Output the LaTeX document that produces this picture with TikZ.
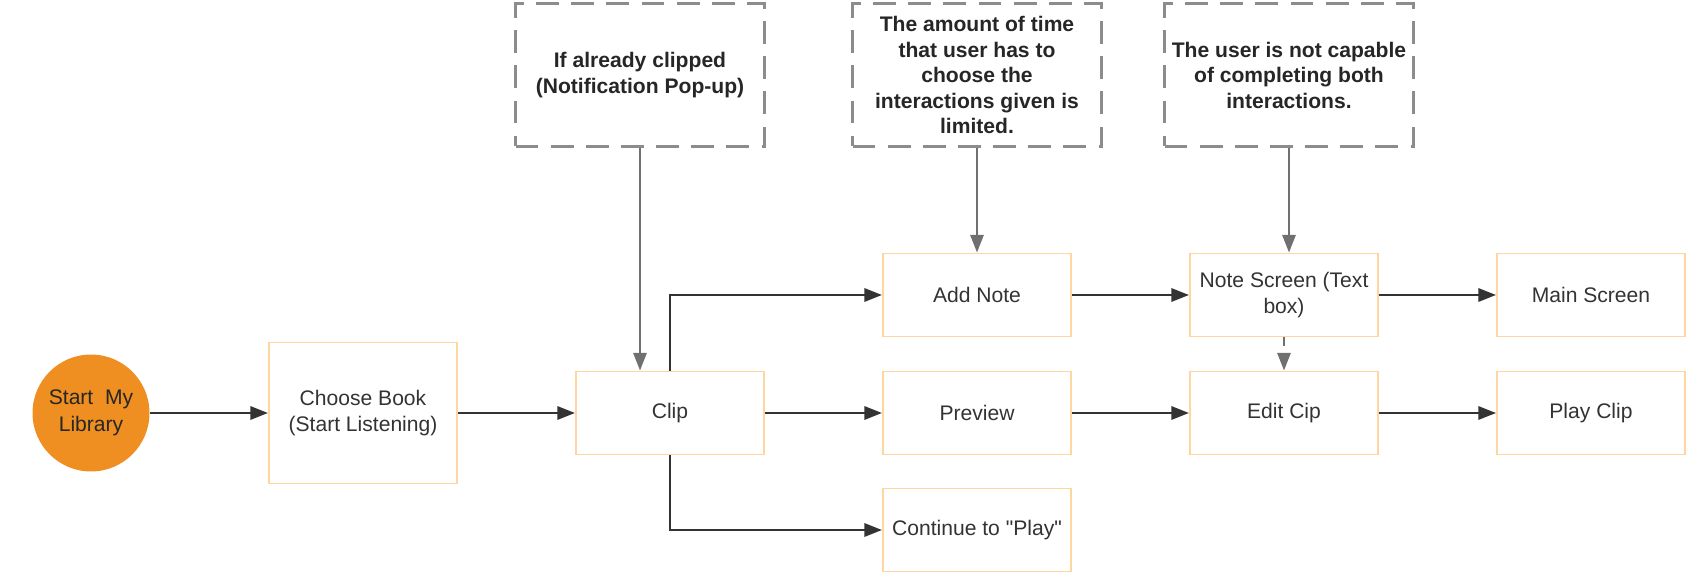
\documentclass[tikz,border=0pt]{standalone}
\usepackage{fontspec}
\setmainfont{Liberation Sans}[Ligatures=TeXOff]
\usetikzlibrary{arrows.meta}
\definecolor{startorange}{HTML}{EF8F22}
\definecolor{boxorange}{HTML}{FFD6A0}
\definecolor{arrowgray}{HTML}{707070}
\definecolor{dashgray}{HTML}{8C8C8C}
\definecolor{textgray}{HTML}{333333}
\begin{document}
\begin{tikzpicture}[x=0.02cm,y=-0.02cm,
  font=\fontsize{12}{15}\selectfont,
  box/.style={draw=boxorange,line width=1.1pt,minimum width=3.76cm,minimum height=1.66cm,
    align=center,text=textgray,inner sep=2pt},
  note/.style={draw=dashgray,line width=1.4pt,dash pattern=on 13pt off 7pt,
    minimum width=4.98cm,minimum height=2.86cm,align=center,text=black!85,
    font=\fontsize{12}{14.5}\selectfont\bfseries},
  flow/.style={draw=black!80,line width=1.4pt,-{Triangle[length=10pt,width=7.5pt]}},
  hint/.style={draw=arrowgray,line width=1.2pt,-{Triangle[length=10pt,width=7.5pt]}}]
  \useasboundingbox (0,0) rectangle (1698,584);
  % main flow
  \node[circle,fill=startorange,minimum size=2.34cm,inner sep=0pt,align=center,text=black!85] (start) at (91,413) {Start~~My\\Library};
  \node[box,minimum height=2.82cm] (choose) at (363,413) {Choose Book\\(Start Listening)};
  \node[box] (clip) at (670,413) {Clip};
  \node[box] (addnote) at (977,295) {Add Note};
  \node[box] (preview) at (977,413) {Preview};
  \node[box] (cont) at (977,530) {Continue to "Play"};
  \node[box] (notescreen) at (1284,295) {Note Screen (Text\\box)};
  \node[box] (editclip) at (1284,413) {Edit Cip};
  \node[box] (mainscreen) at (1591,295) {Main Screen};
  \node[box] (playclip) at (1591,413) {Play Clip};
  % comments on top
  \node[note] (hintclip) at (640,75) {If already clipped\\(Notification Pop-up)};
  \node[note] (hinttime) at (977,75) {The amount of time\\that user has to\\choose the\\interactions given is\\limited.};
  \node[note] (hintuser) at (1289,75) {The user is not capable\\of completing both\\interactions.};

  \draw[flow] (start) -- (choose);
  \draw[flow] (choose) -- (clip);
  \draw[flow] (clip) -- (preview);
  \draw[flow] (clip.north) |- (addnote);
  \draw[flow] (clip.south) |- (cont);
  \draw[flow] (addnote) -- (notescreen);
  \draw[flow] (notescreen) -- (mainscreen);
  \draw[flow] (preview) -- (editclip);
  \draw[flow] (editclip) -- (playclip);

  \draw[hint] (hintclip.south) -- (hintclip.south |- clip.north);
  \draw[hint] (hinttime.south) -- (addnote.north);
  \draw[hint] (hintuser.south) -- (hintuser.south |- notescreen.north);
  \draw[hint,dash pattern=on 5pt off 4pt] (notescreen.south) -- (editclip.north);
\end{tikzpicture}
\end{document}
